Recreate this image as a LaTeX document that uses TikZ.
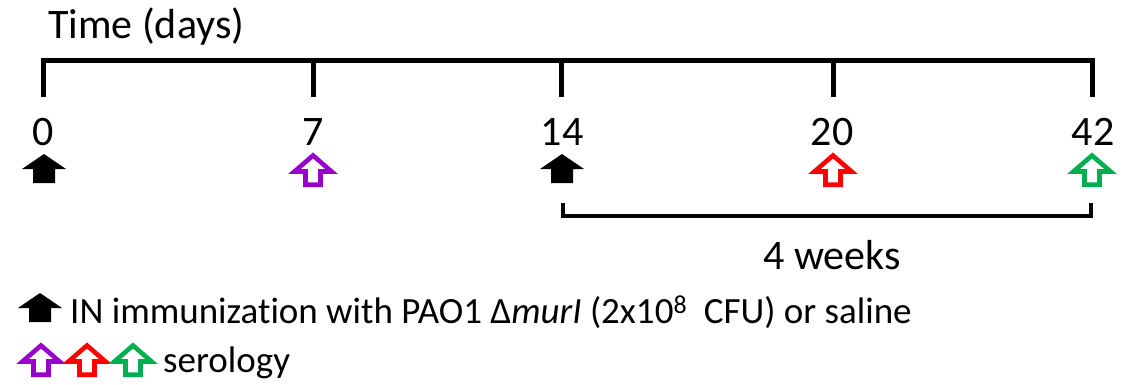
\documentclass[tikz,border=0pt]{standalone}
\usepackage{fontspec}
\setmainfont{Carlito}[Ligatures=NoCommon]
\definecolor{serA}{HTML}{9900CC}
\definecolor{serB}{HTML}{FF0000}
\definecolor{serC}{HTML}{00B050}
\tikzset{
  bar/.style={line width=5pt, line join=miter},
  lbl/.style={inner sep=0pt, font=\fontsize{42}{50}\selectfont},
  legend/.style={inner sep=0pt, anchor=base west, font=\fontsize{37}{44}\selectfont},
  % solid block arrow pointing up; origin = tip
  solidup/.pic={
    \fill (0,0) -- (22,15) -- (11,15) -- (11,29) -- (-11,29) -- (-11,15) -- (-22,15) -- cycle;
  },
  % outlined block arrow pointing up; origin = top of outline
  hollowup/.pic={
    \draw[line width=4.6pt, line join=miter, miter limit=3]
      (0,3.5) -- (18.5,19.5) -- (7.5,19.5) -- (7.5,32.7) -- (-7.5,32.7) -- (-7.5,19.5) -- (-18.5,19.5) -- cycle;
  },
}
\begin{document}
\begin{tikzpicture}[x=1pt, y=-1pt]
\useasboundingbox (0,0) rectangle (1135,384);

% day positions on the time axis
\coordinate (d0)  at (43,60);
\coordinate (d7)  at (313,60);
\coordinate (d14) at (561,60);
\coordinate (d20) at (833,60);
\coordinate (d42) at (1092,60);

\node[lbl, anchor=base west] (title) at (48,38) {Time (days)};

% top bracket with ticks hanging down
\draw[bar] ([yshift=-37pt]d0) -- (d0) -- (d42) -- ([yshift=-37pt]d42);
\foreach \d in {d7,d14,d20}
  \draw[bar] (\d) -- ([yshift=-37pt]\d);

% day labels
\node[lbl, anchor=base] (n0)  at (43,145)   {0};
\node[lbl, anchor=base] (n7)  at (313,145)  {7};
\node[lbl, anchor=base] (n14) at (562,145)  {14};
\node[lbl, anchor=base] (n20) at (832,145)  {20};
\node[lbl, anchor=base] (n42) at (1093,145) {42};

% event arrows
\pic at (44,154) {solidup};
\pic[serA] at (313,152) {hollowup};
\pic at (562,154) {solidup};
\pic[serB] at (833,152) {hollowup};
\pic[serC] at (1092,152) {hollowup};

% four-week bracket, ends turned up
\coordinate (b1) at (563,216);
\coordinate (b2) at (1091,216);
\draw[line width=4.6pt, line join=miter]
  ([yshift=13pt]b1) -- (b1) -- (b2) -- ([yshift=13pt]b2);
\node[lbl, anchor=base] (weeks) at (832,269) {4 weeks};

% legend
\pic at (40,293) {solidup};
\node[legend] (leg1) at (70,323)
  {IN immunization with PAO1 Δ\textit{murI} (2x10\textsuperscript{8}\ \ CFU) or saline};
\pic[serA] at (41,342) {hollowup};
\pic[serB] at (87,342) {hollowup};
\pic[serC] at (133,342) {hollowup};
\node[legend] (leg2) at (163,372) {serology};
\end{tikzpicture}
\end{document}
